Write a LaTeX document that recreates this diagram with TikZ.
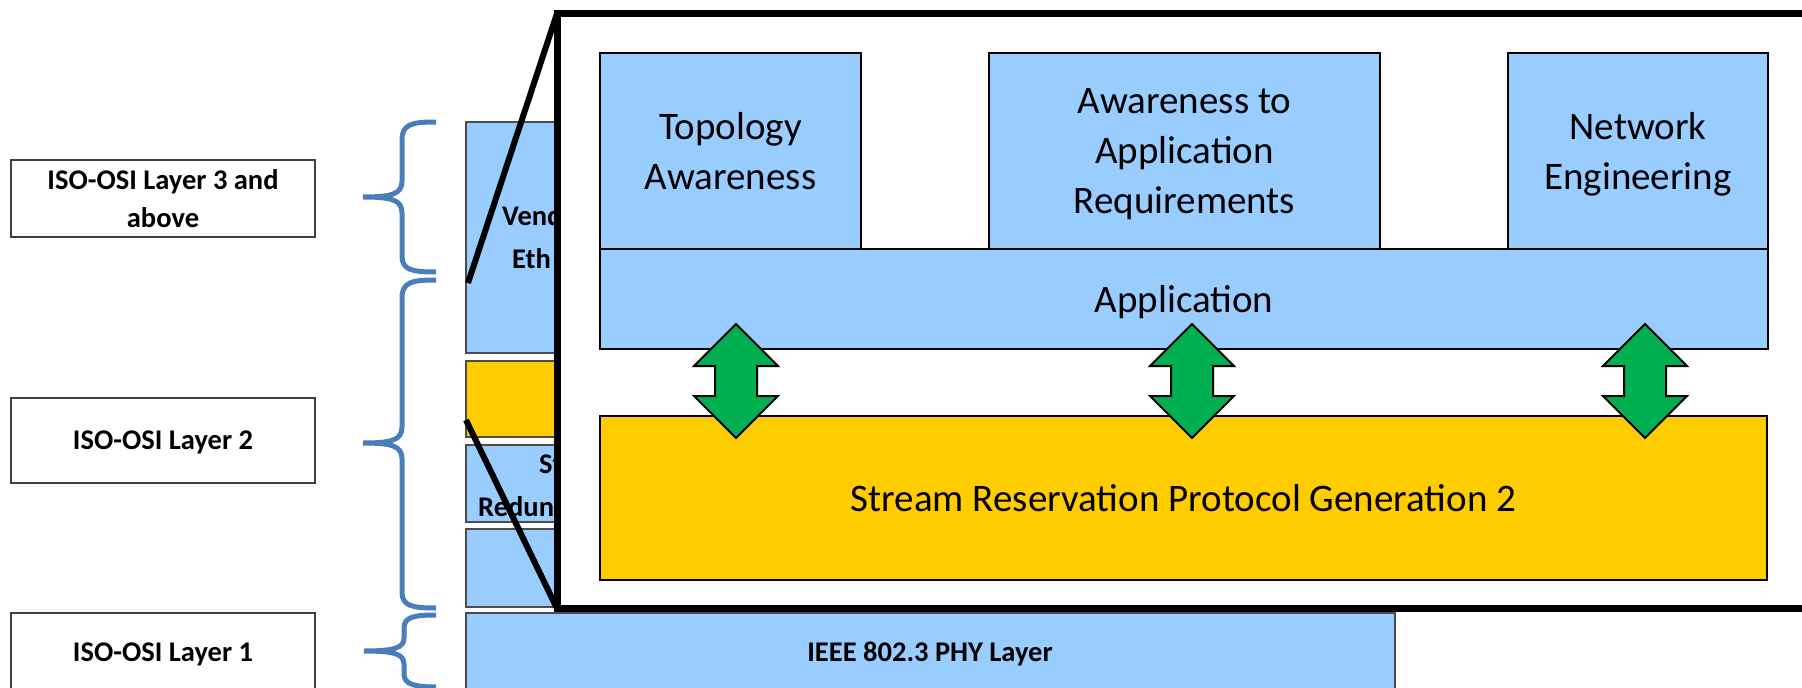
\documentclass[tikz,border=0pt]{standalone}
\usepackage{fontspec}
\setmainfont{Carlito}
\definecolor{lblue}{HTML}{99CCFF}
\definecolor{lyellow}{HTML}{FFCC00}
\definecolor{agreen}{HTML}{00B050}
\definecolor{bracecol}{HTML}{4A7EBB}
\newcommand{\nodepth}[1]{\raisebox{0pt}[\height][0pt]{#1}}
\begin{document}
\begin{tikzpicture}[x=1pt,y=-1pt,
  lbl/.style={draw=black!75, line width=1.5pt, fill=white, inner sep=0pt,
    minimum width=304pt, align=center,
    font=\bfseries\fontsize{28.5}{38}\selectfont},
  brc/.style={draw=bracecol, line width=5pt},
  stackbox/.style={draw=black!70, line width=1.2pt, inner sep=0pt},
  inbox/.style={draw=black, line width=2pt, fill=lblue, inner sep=0pt, align=center,
    font=\fontsize{39}{50}\selectfont},
  partial/.style={anchor=west, inner sep=0pt, font=\bfseries\fontsize{28.5}{38}\selectfont},
  arr/.style={draw=black, line width=2pt, fill=agreen, line join=miter},
  dblarrow/.pic={\path[arr] (0,-57) -- (42,-15) -- (21,-15) -- (21,15) -- (42,15)
     -- (0,57) -- (-42,15) -- (-21,15) -- (-21,-15) -- (-42,-15) -- cycle;},
  zoomframe/.style={draw=black, line width=7pt, fill=white},
  zoomline/.style={draw=black, line width=6pt}
]
\clip (0,0) rectangle (1802,688);
\fill[white] (0,0) rectangle (1802,688);

% left labels
\node[lbl, minimum height=77pt] (l3) at (163,198.5) {ISO-OSI Layer 3 and\\above};
\node[lbl, minimum height=85pt] (l2) at (163,440.5) {\nodepth{ISO-OSI Layer 2}};
\node[lbl, minimum height=78pt] (l1) at (163,652) {\nodepth{ISO-OSI Layer 1}};

% braces
\draw[brc] (436,122) .. controls (412,122) and (402,124) .. (402,140) -- (402,181)
  .. controls (402,194) and (392,197) .. (363,197)
  .. controls (392,197) and (402,200) .. (402,213) -- (402,256)
  .. controls (402,270) and (412,272) .. (436,272);
\draw[brc] (436,280) .. controls (412,280) and (402,282) .. (402,298) -- (402,427)
  .. controls (402,440) and (392,443) .. (363,443)
  .. controls (392,443) and (402,446) .. (402,459) -- (402,592)
  .. controls (402,606) and (412,608) .. (436,608);
\draw[brc] (436,615) .. controls (414,615) and (404,617) .. (404,628) -- (404,638)
  .. controls (404,648) and (394,651) .. (364,651)
  .. controls (394,651) and (404,654) .. (404,664) -- (404,674)
  .. controls (404,684) and (414,687) .. (436,687);

% left stack (partly hidden by the zoom frame)
\begin{scope}
\clip (450,100) rectangle (557,612);
\path[stackbox, fill=lblue] (466,122) rectangle (620,353);
\path[stackbox, fill=lyellow] (466,361) rectangle (620,437);
\path[stackbox, fill=lblue] (466,445) rectangle (620,522);
\path[stackbox, fill=lblue] (466,529) rectangle (620,607);
\node[partial] (t1) at (502,216) {Vend};
\node[partial] (t2) at (512,259) {Eth};
\node[partial] (t3) at (539,464) {St};
\node[partial] (t4) at (478,507) {Redun};
\end{scope}
\node[stackbox, fill=lblue, minimum width=929pt, minimum height=80pt] (phy) at (930.5,653) {};
\node[inner sep=0pt, font=\bfseries\fontsize{28.5}{38}\selectfont] (phyt) at (930,654) {IEEE 802.3 PHY Layer};

% zoom frame
\coordinate (zNW) at (557,13.5);
\coordinate (zSW) at (557,608.5);
\coordinate (zSE) at (1815,608.5);
\path[zoomframe] (zNW) rectangle (zSE);
\coordinate (v1) at (468,283);
\coordinate (v2) at (466,420);
\draw[zoomline] (v1) -- (zNW);
\draw[zoomline] (v2) -- (zSW);

% zoomed content
\node[inbox, minimum width=261pt, minimum height=196pt] (topo) at (730.5,151) {Topology\\Awareness};
\node[inbox, minimum width=391pt, minimum height=196pt] (aware) at (1184.5,151) {Awareness to\\Application\\\nodepth{Requirements}};
\node[inbox, minimum width=260pt, minimum height=196pt] (neteng) at (1638,151) {Network\\\nodepth{Engineering}};
\node[inbox, minimum width=1168pt, minimum height=100pt] (app) at (1184,299) {\nodepth{Application}};
\node[inbox, fill=lyellow, minimum width=1167pt, minimum height=164pt] (srp) at (1183.5,498) {Stream Reservation Protocol Generation 2};

\coordinate (a1) at (736,381);
\coordinate (a2) at (1192,381);
\coordinate (a3) at (1645,381);
\pic at (a1) {dblarrow};
\pic at (a2) {dblarrow};
\pic at (a3) {dblarrow};
\end{tikzpicture}
\end{document}
